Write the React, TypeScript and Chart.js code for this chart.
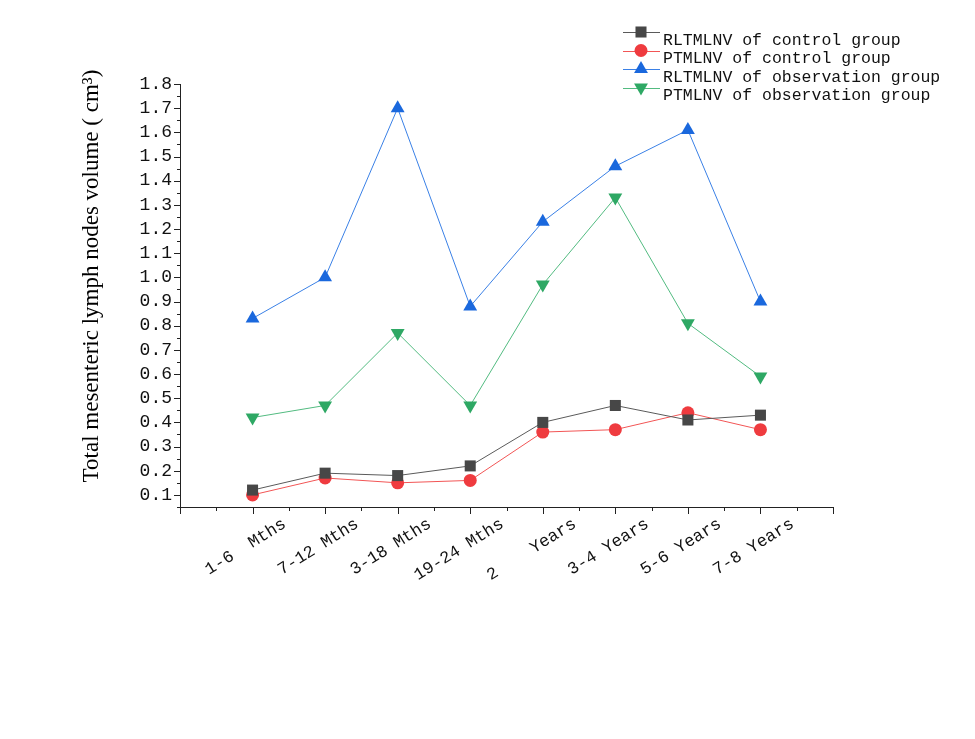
import React, { useEffect, useRef } from 'react';
import { Chart, registerables } from 'chart.js';

Chart.register(...registerables);

const categories = ['1-6  Mths', '7-12 Mths', '3-18 Mths', '19-24 Mths', '2    Years', '3-4 Years', '5-6 Years', '7-8 Years'];
const rltmlnvControl = [0.12, 0.19, 0.18, 0.22, 0.40, 0.47, 0.41, 0.43];
const ptmlnvControl = [0.10, 0.17, 0.15, 0.16, 0.36, 0.37, 0.44, 0.37];
const rltmlnvObservation = [0.83, 1.00, 1.70, 0.88, 1.23, 1.46, 1.61, 0.90];
const ptmlnvObservation = [0.42, 0.47, 0.77, 0.47, 0.97, 1.33, 0.81, 0.59];
const yTickValues = [0.1, 0.2, 0.3, 0.4, 0.5, 0.6, 0.7, 0.8, 0.9, 1.0, 1.1, 1.2, 1.3, 1.4, 1.5, 1.6, 1.7, 1.8];
const seriesNames = [
  'RLTMLNV of control group',
  'PTMLNV of control group',
  'RLTMLNV of observation group',
  'PTMLNV of observation group',
];
const yTitle = 'Total mesenteric lymph nodes volume ( cm\u00B3)';

const toPoints = (arr: number[]) => arr.map((v, i) => ({ x: i, y: v }));

function drawMarker(ctx: CanvasRenderingContext2D, style: string, x: number, y: number, r: number, color: string) {
  ctx.save();
  ctx.fillStyle = color;
  ctx.beginPath();
  if (style === 'rect') {
    const s = r * Math.SQRT1_2;
    ctx.rect(x - s, y - s, 2 * s, 2 * s);
  } else if (style === 'circle') {
    ctx.arc(x, y, r, 0, Math.PI * 2);
  } else if (style === 'up') {
    ctx.moveTo(x, y - r);
    ctx.lineTo(x + r * 0.866, y + r * 0.5);
    ctx.lineTo(x - r * 0.866, y + r * 0.5);
    ctx.closePath();
  } else {
    ctx.moveTo(x, y + r);
    ctx.lineTo(x + r * 0.866, y - r * 0.5);
    ctx.lineTo(x - r * 0.866, y - r * 0.5);
    ctx.closePath();
  }
  ctx.fill();
  ctx.restore();
}

const customPlugin = {
  id: 'customDecor',
  afterDraw(chart: any) {
    const ctx: CanvasRenderingContext2D = chart.ctx;
    const xs = chart.scales.x;
    const ys = chart.scales.y;
    const area = chart.chartArea;
    ctx.save();
    ctx.strokeStyle = '#222';
    ctx.lineWidth = 1;
    // y ticks (major every 0.1, minor every 0.05)
    for (let k = Math.round(ys.min * 20); k <= Math.round(ys.max * 20); k++) {
      const v = k / 20;
      const py = Math.round(ys.getPixelForValue(v)) + 0.5;
      const len = k % 2 === 0 ? 6 : 3;
      ctx.beginPath();
      ctx.moveTo(area.left - len, py);
      ctx.lineTo(area.left, py);
      ctx.stroke();
    }
    // x ticks
    for (let k = Math.round(xs.min * 2); k <= Math.round(xs.max * 2); k++) {
      const v = k / 2;
      const px = Math.round(xs.getPixelForValue(v)) + 0.5;
      const len = k % 2 === 0 ? 7 : 4;
      ctx.beginPath();
      ctx.moveTo(px, area.bottom);
      ctx.lineTo(px, area.bottom + len);
      ctx.stroke();
    }
    // y title
    ctx.save();
    ctx.translate(92, 276);
    ctx.rotate(-Math.PI / 2);
    ctx.font = '23px "Liberation Serif"';
    ctx.fillStyle = '#000';
    ctx.textAlign = 'center';
    ctx.textBaseline = 'middle';
    ctx.fillText(yTitle, 0, 0);
    ctx.restore();
    // legend
    chart.data.datasets.forEach((ds: any, i: number) => {
      const my = 32 + i * 18.5;
      ctx.strokeStyle = ds.borderColor;
      ctx.beginPath();
      ctx.moveTo(623, Math.round(my) + 0.5);
      ctx.lineTo(660, Math.round(my) + 0.5);
      ctx.stroke();
      drawMarker(ctx, ds.legendMarker, 641, my, ds.pointRadius, ds.pointBackgroundColor);
      ctx.fillStyle = '#111';
      ctx.font = '16.5px "Liberation Mono"';
      ctx.textAlign = 'left';
      ctx.textBaseline = 'middle';
      ctx.fillText(ds.label, 663, my + 8.5);
    });
    ctx.restore();
  },
};

export default function App() {
  const ref = useRef<HTMLCanvasElement | null>(null);
  useEffect(() => {
    if (!ref.current) return;
    const chart = new Chart(ref.current, {
      type: 'line',
      data: {
        datasets: [
          {
            label: seriesNames[0],
            data: toPoints(rltmlnvControl),
            borderColor: '#5a5a5a',
            backgroundColor: '#474747',
            pointBackgroundColor: '#474747',
            pointBorderWidth: 0,
            pointStyle: 'rect',
            pointRadius: 7.8,
            borderWidth: 1,
            legendMarker: 'rect',
          } as any,
          {
            label: seriesNames[1],
            data: toPoints(ptmlnvControl),
            borderColor: '#f25555',
            backgroundColor: '#ef3b3f',
            pointBackgroundColor: '#ef3b3f',
            pointBorderWidth: 0,
            pointStyle: 'circle',
            pointRadius: 6.5,
            borderWidth: 1,
            legendMarker: 'circle',
          } as any,
          {
            label: seriesNames[2],
            data: toPoints(rltmlnvObservation),
            borderColor: '#3a80e6',
            backgroundColor: '#1a68dd',
            pointBackgroundColor: '#1a68dd',
            pointBorderWidth: 0,
            pointStyle: 'triangle',
            pointRadius: 8,
            borderWidth: 1,
            legendMarker: 'up',
          } as any,
          {
            label: seriesNames[3],
            data: toPoints(ptmlnvObservation),
            borderColor: '#52bb80',
            backgroundColor: '#2ea864',
            pointBackgroundColor: '#2ea864',
            pointBorderWidth: 0,
            pointStyle: 'triangle',
            pointRotation: 180,
            pointRadius: 8,
            borderWidth: 1,
            legendMarker: 'down',
          } as any,
        ],
      },
      options: {
        animation: false,
        responsive: false,
        devicePixelRatio: 1,
        layout: { padding: { left: 0, top: 84, right: 142, bottom: 0 } },
        plugins: {
          legend: { display: false },
          tooltip: { enabled: false },
        },
        scales: {
          x: {
            type: 'linear',
            min: -1,
            max: 8,
            grid: { display: false, drawTicks: false },
            border: { display: true, color: '#222', width: 1 },
            afterBuildTicks: (scale: any) => {
              scale.ticks = categories.map((_, i) => ({ value: i }));
            },
            afterFit: (scale: any) => {
              scale.height = 232;
            },
            ticks: {
              autoSkip: false,
              minRotation: 32,
              maxRotation: 32,
              padding: 7,
              labelOffset: 32,
              color: '#111',
              font: { family: '"Liberation Mono"', size: 17 },
              callback: (v: any) => categories[Math.round(Number(v))] ?? '',
            },
          },
          y: {
            type: 'linear',
            min: 0.05,
            max: 1.8,
            grid: { display: false, drawTicks: false },
            border: { display: true, color: '#222', width: 1 },
            afterBuildTicks: (scale: any) => {
              scale.ticks = yTickValues.map((v) => ({ value: v }));
            },
            afterFit: (scale: any) => {
              scale.width = 180;
            },
            ticks: {
              padding: 8,
              color: '#111',
              font: { family: '"Liberation Mono"', size: 18 },
              callback: (v: any) => Number(v).toFixed(1),
            },
          },
        },
      },
      plugins: [customPlugin],
    });
    return () => chart.destroy();
  }, []);
  return (
    <div style={{ position: 'fixed', left: 0, top: 0, width: 975, height: 739, background: '#fff' }}>
      <canvas ref={ref} width={975} height={739} style={{ width: 975, height: 739, display: 'block' }} />
    </div>
  );
}
